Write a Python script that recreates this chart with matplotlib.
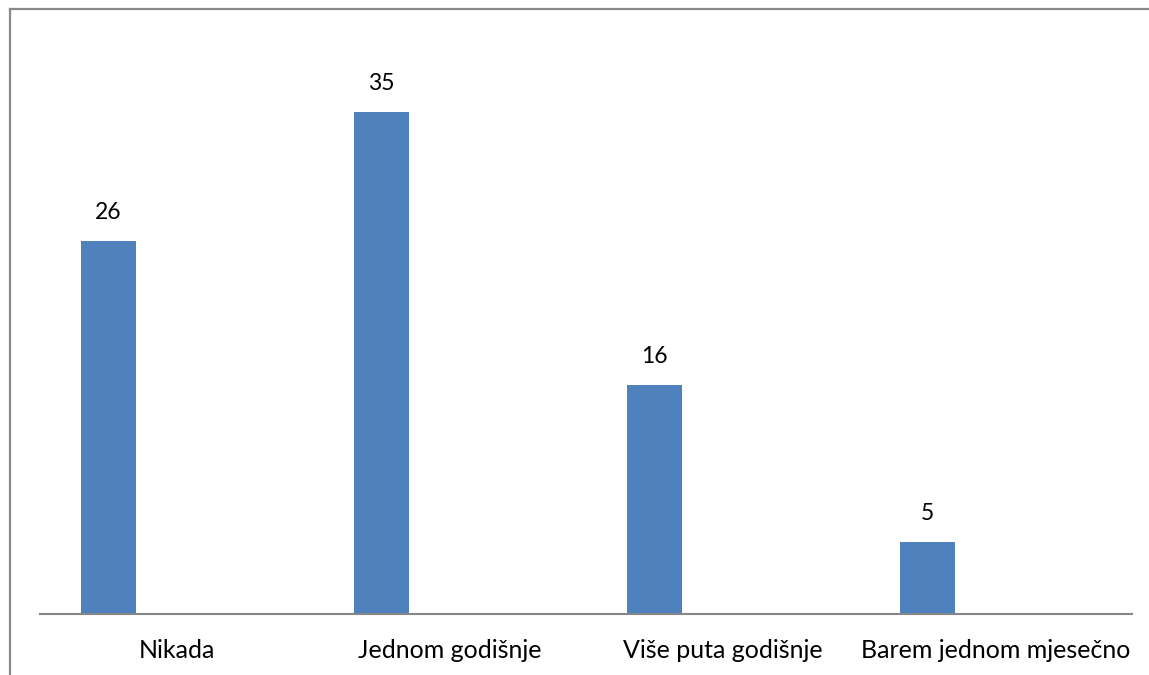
import matplotlib
matplotlib.use("Agg")
import matplotlib.pyplot as plt
from matplotlib.lines import Line2D

categories = ["Nikada", "Jednom godišnje", "Više puta godišnje", "Barem jednom mjesečno"]
values = [26, 35, 16, 5]

W, H = 1149, 675
fig = plt.figure(figsize=(W / 100, H / 100), dpi=100)
plt.rcParams['font.family'] = ['Lato', 'DejaVu Sans']

x0, x1 = 40, 1132
ybase = 614
ppu = 14.34
ymax = 40
ax = fig.add_axes([x0 / W, (H - ybase) / H, (x1 - x0) / W, ymax * ppu / H])

pos = [i - 0.25 for i in range(len(categories))]
bars = ax.bar(pos, values, width=0.2, color="#4F81BD", zorder=2)
for b, v in zip(bars, values):
    ax.annotate(str(v), (b.get_x() + b.get_width() / 2, v), xytext=(0, 13),
                textcoords="offset points", ha="center", va="bottom", fontsize=16.5, color="#000000")

ax.set_xlim(-0.5, len(categories) - 0.5)
ax.set_ylim(0, ymax)
ax.set_xticks(range(len(categories)))
ax.set_xticklabels(categories, fontsize=18)
ax.tick_params(axis="x", length=0, pad=18)
ax.set_yticks([])
for s in ["top", "right", "left"]:
    ax.spines[s].set_visible(False)
ax.spines["bottom"].set_color("#868686")
ax.spines["bottom"].set_linewidth(1.5)

# outer chart border (left and top)
fig.add_artist(Line2D([9.5 / W, 9.5 / W], [0, 1 - 8.5 / H], transform=fig.transFigure, color="#898989", lw=1.6))
fig.add_artist(Line2D([9.5 / W, 1], [1 - 8.5 / H, 1 - 8.5 / H], transform=fig.transFigure, color="#898989", lw=1.6))

fig.savefig("out.png", dpi=100)
